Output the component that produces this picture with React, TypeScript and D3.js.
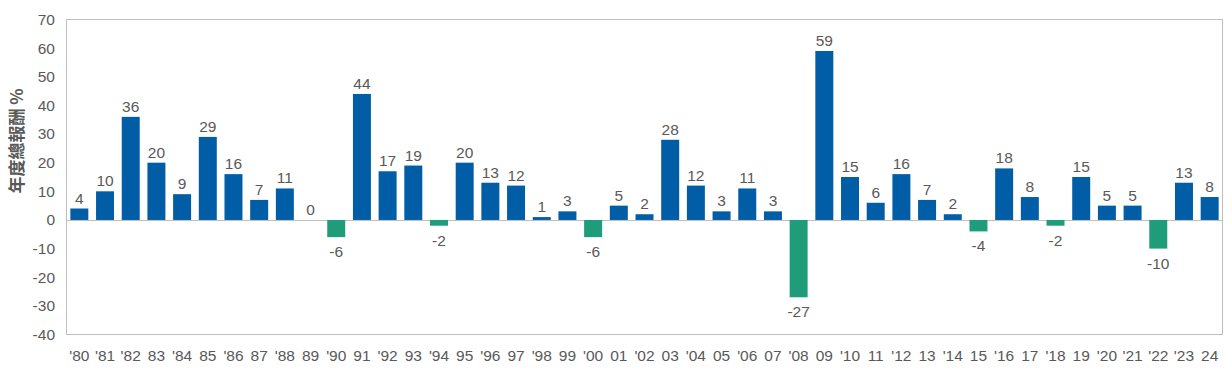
import React from "react";
import * as d3 from "d3";

const years = ["'80","'81","'82","83","'84","85","'86","87","'88","89","'90","91","'92","93","'94","95","'96","97","'98","99","'00","01","'02","03","'04","05","'06","07","'08","09","'10","11","'12","13","'14","15","'16","17","'18","19","'20","'21","'22","'23","24"];
const returns = [4,10,36,20,9,29,16,7,11,0,-6,44,17,19,-2,20,13,12,1,3,-6,5,2,28,12,3,11,3,-27,59,15,6,16,7,2,-4,18,8,-2,15,5,5,-10,13,8];
const yTicks = [70,60,50,40,30,20,10,0,-10,-20,-30,-40];
const yTitle = "年度總報酬 %";

const W = 1232, H = 371;
const left = 66.5, right = 1222.5, top = 19.5, bottom = 334.5;
const BLUE = "#005DA6", GREEN = "#1F9C7A", TEXT = "#595959", GRID = "#BFBFBF";
const FONT = "'Liberation Sans', Arial, sans-serif";

export default function App() {
  const x = d3.scaleBand<number>().domain(d3.range(years.length)).range([left, right]).paddingInner(0.3).paddingOuter(0.15);
  const y = d3.scaleLinear().domain([-40, 70]).range([bottom, top]);
  const y0 = y(0);
  return (
    <svg width={W} height={H} style={{ position: "absolute", left: 0, top: 0, background: "#fff" }} fontFamily={FONT}>
      <rect x={left} y={top} width={right - left} height={bottom - top} fill="none" stroke={GRID} strokeWidth={1} />
      <line x1={left} x2={right} y1={Math.round(y0) + 0.5} y2={Math.round(y0) + 0.5} stroke={GRID} strokeWidth={1} />
      {yTicks.map((t) => (
        <text key={t} x={55} y={y(t)} dy="0.35em" textAnchor="end" fontSize={15.5} fill={TEXT}>{t}</text>
      ))}
      <text transform={`translate(23,141) rotate(-90)`} textAnchor="middle" fontSize={17} fontWeight="bold" fill={TEXT} fontFamily="'Noto Sans CJK TC', sans-serif">{yTitle}</text>
      {returns.map((v, i) => {
        const bx = x(i)!;
        const bw = x.bandwidth();
        const yy = Math.min(y(v), y0);
        const h = Math.abs(y(v) - y0);
        return (
          <g key={i}>
            {h > 0 && <rect x={bx} y={yy} width={bw} height={h} fill={v >= 0 ? BLUE : GREEN} />}
            <text x={bx + bw / 2} y={v >= 0 ? y(v) - 5 : y(v) + 20} textAnchor="middle" fontSize={15.5} fill={TEXT}>{v}</text>
            <text x={bx + bw / 2} y={361} textAnchor="middle" fontSize={15.5} fill={TEXT}>{years[i]}</text>
          </g>
        );
      })}
    </svg>
  );
}
